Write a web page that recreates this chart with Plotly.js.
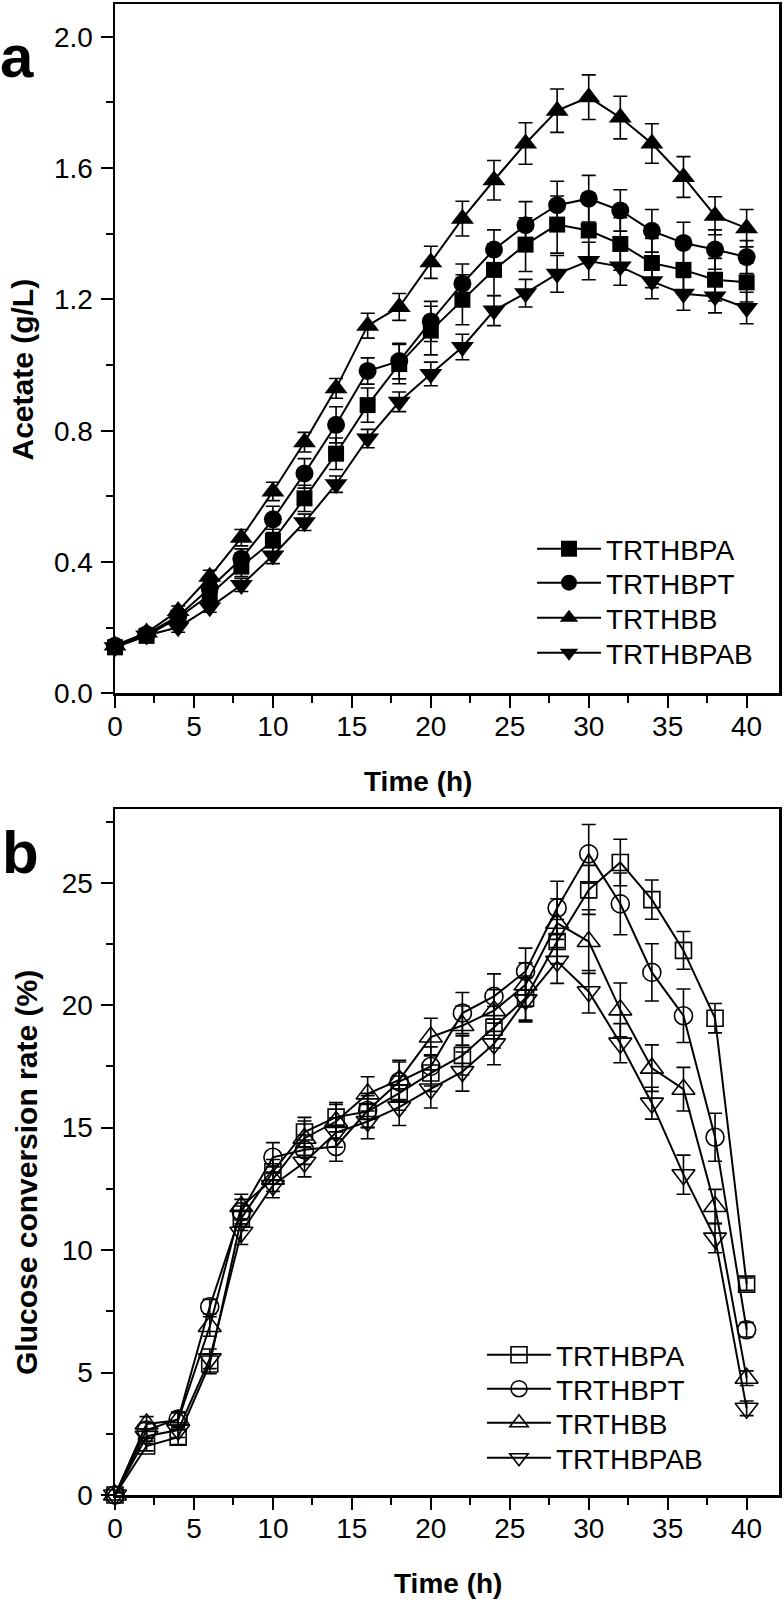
<!DOCTYPE html>
<html>
<head>
<meta charset="utf-8">
<script src="https://cdn.plot.ly/plotly-3.0.1.min.js"></script>
<style>
  html, body { margin: 0; padding: 0; background: #fff; }
  #chart { width: 784px; height: 1600px; }
</style>
</head>
<body>
<div id="chart"></div>
<script>
// ---------- data ----------
const timeH = [0, 2, 4, 6, 8, 10, 12, 14, 16, 18, 20, 22, 24, 26, 28, 30, 32, 34, 36, 38, 40];
const seriesNames = ["TRTHBPA", "TRTHBPT", "TRTHBB", "TRTHBPAB"];

// Panel a: Acetate (g/L)
const acetateTRTHBPA  = [0.14, 0.175, 0.23, 0.30, 0.386, 0.465, 0.594, 0.73, 0.878, 1.003, 1.105, 1.199, 1.29, 1.367, 1.428, 1.41, 1.369, 1.311, 1.29, 1.26, 1.252];
const acetateTRTHBPT  = [0.145, 0.18, 0.235, 0.32, 0.41, 0.53, 0.67, 0.818, 0.982, 1.012, 1.133, 1.248, 1.352, 1.426, 1.487, 1.507, 1.471, 1.409, 1.372, 1.352, 1.329];
const acetateTRTHBB   = [0.146, 0.185, 0.251, 0.355, 0.474, 0.615, 0.765, 0.929, 1.12, 1.177, 1.313, 1.446, 1.563, 1.675, 1.775, 1.816, 1.754, 1.675, 1.573, 1.455, 1.417];
const acetateTRTHBPAB = [0.14, 0.176, 0.201, 0.262, 0.33, 0.42, 0.521, 0.637, 0.776, 0.888, 0.973, 1.055, 1.166, 1.219, 1.278, 1.317, 1.30, 1.255, 1.217, 1.209, 1.174];

const acetateErrTRTHBPA  = [0.01, 0.01, 0.015, 0.02, 0.03, 0.035, 0.04, 0.048, 0.052, 0.06, 0.074, 0.076, 0.079, 0.082, 0.087, 0.085, 0.08, 0.075, 0.07, 0.065, 0.06];
const acetateErrTRTHBPT  = [0.01, 0.01, 0.015, 0.02, 0.03, 0.04, 0.045, 0.055, 0.04, 0.054, 0.061, 0.06, 0.06, 0.072, 0.073, 0.071, 0.063, 0.065, 0.063, 0.06, 0.05];
const acetateErrTRTHBB   = [0.01, 0.01, 0.015, 0.02, 0.025, 0.028, 0.03, 0.03, 0.038, 0.041, 0.049, 0.053, 0.06, 0.063, 0.066, 0.068, 0.065, 0.06, 0.062, 0.058, 0.057];
const acetateErrTRTHBPAB = [0.01, 0.01, 0.015, 0.015, 0.02, 0.025, 0.025, 0.025, 0.028, 0.03, 0.036, 0.039, 0.046, 0.042, 0.056, 0.057, 0.057, 0.053, 0.05, 0.05, 0.048];

// Panel b: Glucose conversion rate (%)
const glucoseTRTHBPA  = [0, 2.0, 2.36, 5.35, 11.3, 13.2, 14.82, 15.43, 15.66, 16.41, 17.23, 17.95, 19.1, 20.29, 22.6, 24.71, 25.83, 24.31, 22.24, 19.47, 8.61];
const glucoseTRTHBPT  = [0, 2.65, 3.1, 7.69, 11.57, 13.79, 14.1, 14.23, 15.7, 16.88, 17.5, 19.68, 20.36, 21.38, 23.97, 26.18, 24.14, 21.34, 19.57, 14.61, 6.75];
const glucoseTRTHBB   = [0, 2.9, 3.05, 6.88, 11.78, 12.9, 14.57, 15.25, 16.38, 16.95, 18.7, 19.17, 19.78, 20.83, 23.35, 22.6, 19.81, 17.43, 16.57, 11.78, 4.77];
const glucoseTRTHBPAB = [0, 2.4, 2.65, 5.56, 10.73, 12.64, 13.59, 14.8, 15.25, 15.84, 16.58, 17.29, 18.42, 20.22, 21.79, 20.55, 18.45, 16.0, 13.08, 10.49, 3.54];

const glucoseErrTRTHBPA  = [0.1, 0.2, 0.3, 0.4, 0.5, 0.5, 0.6, 0.6, 0.65, 0.7, 0.75, 0.8, 0.85, 0.9, 0.9, 1.0, 0.95, 0.8, 0.77, 0.6, 0.25];
const glucoseErrTRTHBPT  = [0.1, 0.3, 0.3, 0.3, 0.5, 0.6, 0.6, 0.6, 0.7, 0.8, 0.8, 0.84, 0.92, 0.95, 1.09, 1.2, 1.26, 1.17, 1.09, 0.98, 0.3];
const glucoseErrTRTHBB   = [0.1, 0.3, 0.3, 0.4, 0.5, 0.5, 0.7, 0.7, 0.7, 0.8, 0.77, 0.8, 0.85, 0.9, 1.0, 1.3, 1.1, 0.95, 0.89, 0.7, 0.3];
const glucoseErrTRTHBPAB = [0.1, 0.3, 0.3, 0.4, 0.5, 0.5, 0.6, 0.6, 0.7, 0.75, 0.78, 0.8, 0.85, 0.9, 0.9, 0.87, 0.8, 0.65, 0.8, 0.6, 0.3];

const xTickVals = [0, 5, 10, 15, 20, 25, 30, 35, 40];
const yTickValsA = [0.0, 0.4, 0.8, 1.2, 1.6, 2.0];
const yTickValsB = [0, 5, 10, 15, 20, 25];

// ---------- styling ----------
const FONT = "Liberation Sans, Arial, Helvetica, sans-serif";
const symbolsA = ["square", "circle", "triangle-up", "triangle-down"];
const symbolsB = ["square-open", "circle-open", "triangle-up-open", "triangle-down-open"];
const sizes = [16, 18, 20, 20];

const acetate = [acetateTRTHBPA, acetateTRTHBPT, acetateTRTHBB, acetateTRTHBPAB];
const acetateErr = [acetateErrTRTHBPA, acetateErrTRTHBPT, acetateErrTRTHBB, acetateErrTRTHBPAB];
const glucose = [glucoseTRTHBPA, glucoseTRTHBPT, glucoseTRTHBB, glucoseTRTHBPAB];
const glucoseErr = [glucoseErrTRTHBPA, glucoseErrTRTHBPT, glucoseErrTRTHBB, glucoseErrTRTHBPAB];

function mk(name, y, err, symbol, size, xa, ya, legendId, open) {
  return {
    type: "scatter", mode: "lines+markers", name: name,
    x: timeH, y: y, xaxis: xa, yaxis: ya, legend: legendId,
    cliponaxis: false,
    line: { color: "black", width: 2 },
    marker: open
      ? { symbol: symbol, size: size, color: "black", line: { color: "black", width: 1.6 } }
      : { symbol: symbol, size: size, color: "black", line: { color: "black", width: 0 } },
    error_y: { type: "data", array: err, visible: true, color: "black", thickness: 1.6, width: 7 }
  };
}

const data = [];
for (let i = 0; i < 4; i++) {
  data.push(mk(seriesNames[i], acetate[i], acetateErr[i], symbolsA[i], sizes[i], "x", "y", i === 0 ? "legend" : "legend" + (i + 1), false));
}
for (let i = 0; i < 4; i++) {
  data.push(mk(seriesNames[i], glucose[i], glucoseErr[i], symbolsB[i], sizes[i], "x2", "y2", "legend" + (i + 5), true));
}

const M = { l: 115, r: 5, t: 4, b: 105 };
const plotW = 784 - M.l - M.r, plotH = 1600 - M.t - M.b;
const px = (x) => (x - M.l) / plotW;
const py = (y) => (1600 - M.b - y) / plotH;

function xAxis(anchor) {
  return {
    anchor: anchor, domain: [0, 1], range: [0, 42.05],
    tickmode: "array", tickvals: xTickVals,
    ticks: "outside", ticklen: 12, tickwidth: 2, tickcolor: "black",
    ticklabelstandoff: -5,
    minor: { dtick: 2.5, tick0: 0, ticks: "outside", ticklen: 7, tickwidth: 2, tickcolor: "black", showgrid: false },
    showline: true, linewidth: 2.5, linecolor: "black", mirror: true,
    showgrid: false, zeroline: false,
    tickfont: { family: FONT, size: 28, color: "black" }
  };
}
function yAxis(anchor, domain, range, vals, minorDt, fmt) {
  return {
    anchor: anchor, domain: domain, range: range,
    tickmode: "array", tickvals: vals, tickformat: fmt,
    ticks: "outside", ticklen: 12, tickwidth: 2, tickcolor: "black",
    ticklabelstandoff: 2,
    minor: { dtick: minorDt, tick0: 0, ticks: "outside", ticklen: 7, tickwidth: 2, tickcolor: "black", showgrid: false },
    showline: true, linewidth: 2.5, linecolor: "black", mirror: true,
    showgrid: false, zeroline: false,
    tickfont: { family: FONT, size: 28, color: "black" }
  };
}

const legendRowsA = [549, 583, 618, 653];
const legendRowsB = [1355, 1389, 1423, 1458];
function legendAt(xPix, yPix) {
  return {
    x: px(xPix), y: py(yPix), xref: "paper", yref: "paper",
    xanchor: "left", yanchor: "middle",
    bgcolor: "rgba(0,0,0,0)", borderwidth: 0,
    font: { family: FONT, size: 28, color: "black" },
    itemwidth: 64, itemsizing: "trace", tracegroupgap: 0
  };
}

const layout = {
  width: 784, height: 1600,
  margin: M,
  paper_bgcolor: "white", plot_bgcolor: "white",
  font: { family: FONT, color: "black" },
  showlegend: true,
  xaxis: xAxis("y"),
  yaxis: yAxis("x", [py(693.3), 1], [0, 2.1], yTickValsA, 0.2, ".1f"),
  xaxis2: xAxis("y2"),
  yaxis2: yAxis("x2", [0, py(809.3)], [0, 28], yTickValsB, 2.5, "d"),
  annotations: [
    { text: "<b>a</b>", xref: "paper", yref: "paper", x: px(17), y: py(57), xanchor: "center", yanchor: "middle", showarrow: false, font: { family: FONT, size: 60, color: "black" } },
    { text: "<b>b</b>", xref: "paper", yref: "paper", x: px(20), y: py(852), xanchor: "center", yanchor: "middle", showarrow: false, font: { family: FONT, size: 60, color: "black" } },
    { text: "<b>Acetate (g/L)</b>", xref: "paper", yref: "paper", x: px(22), y: py(369.5), xanchor: "center", yanchor: "middle", textangle: -90, showarrow: false, font: { family: FONT, size: 30, color: "black" } },
    { text: "<b>Glucose conversion rate (%)</b>", xref: "paper", yref: "paper", x: px(26), y: py(1173), xanchor: "center", yanchor: "middle", textangle: -90, showarrow: false, font: { family: FONT, size: 30, color: "black" } },
    { text: "<b>Time (h)</b>", xref: "paper", yref: "paper", x: px(417.5), y: py(781), xanchor: "center", yanchor: "middle", showarrow: false, font: { family: FONT, size: 28, color: "black" } },
    { text: "<b>Time (h)</b>", xref: "paper", yref: "paper", x: px(447.5), y: py(1583), xanchor: "center", yanchor: "middle", showarrow: false, font: { family: FONT, size: 28, color: "black" } }
  ]
};
for (let i = 0; i < 4; i++) {
  layout[i === 0 ? "legend" : "legend" + (i + 1)] = legendAt(532, legendRowsA[i]);
  layout["legend" + (i + 5)] = legendAt(482, legendRowsB[i]);
}

Plotly.newPlot("chart", data, layout, { displayModeBar: false, staticPlot: true });
</script>
</body>
</html>
